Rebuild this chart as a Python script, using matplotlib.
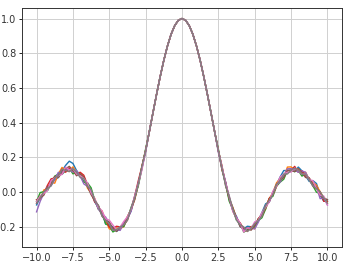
import numpy as np
import matplotlib
matplotlib.use('Agg')
import matplotlib.pyplot as plt

# x grid and the underlying curve
x = np.linspace(-10, 10, 81)
y_base = [-0.054, -0.033, -0.008, 0.019, 0.046, 0.071, 0.094, 0.112, 0.124, 0.128,
          0.125, 0.114, 0.094, 0.067, 0.033, -0.005, -0.047, -0.088, -0.128, -0.164,
          -0.192, -0.210, -0.217, -0.211, -0.189, -0.152, -0.100, -0.033, 0.047, 0.139,
          0.239, 0.346, 0.455, 0.562, 0.665, 0.759, 0.841, 0.909, 0.959, 0.990,
          1.000,
          0.990, 0.959, 0.909, 0.841, 0.759, 0.665, 0.562, 0.455, 0.346, 0.239,
          0.139, 0.047, -0.033, -0.100, -0.152, -0.189, -0.211, -0.217, -0.210, -0.192,
          -0.164, -0.128, -0.088, -0.047, -0.005, 0.033, 0.067, 0.094, 0.114, 0.125,
          0.128, 0.124, 0.112, 0.094, 0.071, 0.046, 0.019, -0.008, -0.033, -0.054]

# per-run wiggle around the curve, in hundredths (center is clean)
mid = [0] * 19
dev_c0 = [-2, 0, 1, -1, 2, 0, -1, 1, 3, 5, 4, 1, 0, -1, 2, 1, -1, 0, 1, -2, 0, 1, -1, 0, 1, 0, -1, 1, 0, 0, 0] + mid + \
         [0, 0, 1, -1, 0, 1, -1, 0, 2, 1, -1, 0, 1, 2, -1, 0, 1, 2, 3, 1, 0, -1, 2, 1, 0, -1, 2, 3, -1, -2, 1]
dev_c1 = [1, -1, 2, 0, 1, -2, 1, 3, 0, -1, 2, 0, 1, 2, -1, 0, 1, -1, 2, 0, -2, -1, 1, 0, -1, 1, 0, -1, 0, 1, 0] + mid + \
         [0, 1, 0, -1, 1, 0, 1, -1, 0, 1, -2, 1, 0, -1, 1, 0, 2, 1, -1, 3, 2, 0, 1, -1, 2, 0, 1, 2, 1, 0, -1]
dev_c2 = [0, 3, 1, -1, 0, 2, 1, -1, 0, 1, -2, 0, 1, -1, 2, 3, 0, -1, 1, -2, 0, -2, 0, 1, -1, 0, 1, 0, -1, 0, 1] + mid + \
         [1, -1, 0, -2, 0, -1, 1, -2, 0, 1, -1, 0, -2, -1, 1, -2, 0, -1, -2, 1, 0, -1, 0, -2, 1, 0, -1, -2, 0, -1, 0]
dev_c3 = [-1, 1, 0, 2, 3, 1, 0, 2, -1, 1, 0, -1, 2, 3, 1, 0, -1, 1, 0, 1, -1, 0, 2, 1, 0, -1, 0, 1, 2, 1, 0] + mid + \
         [0, -1, 1, 0, -1, 0, 1, 0, -1, 1, 0, 1, -1, 0, 1, -1, 0, 1, 0, 1, 0, 2, -1, 1, 0, 1, -1, 0, 1, -2, 0]
dev_c4 = [-6, -2, 0, 1, -1, 0, 2, -1, 1, 0, -1, 1, 0, -2, 0, 1, 0, -1, 0, 2, 1, -1, 0, -1, 1, 0, -1, 0, 1, 0, -1] + mid + \
         [-1, 0, 1, 0, -1, 1, 0, -1, 1, 0, -2, -1, 0, 1, -1, 0, 1, -1, 0, 2, 1, 0, -1, 1, 2, 0, -1, 1, -3, 0, -2]
dev_c5 = [1, 0, -1, 1, 0, 2, -1, 0, 1, 2, 0, -2, 1, 2, 0, -1, 0, 1, -1, 0, 2, 0, -1, 1, 0, 1, 0, -1, 0, 1, 0] + mid + \
         [0, 1, -1, 0, 1, 0, -1, 0, 1, -1, 0, 1, 0, 1, -1, 0, 1, 0, -1, 1, 0, -1, 1, 0, -1, 1, 0, 1, -1, 0, 1]
dev_c6 = [0, 1, 0, -1, 2, 1, 0, -1, 2, 0, 1, -1, 0, 1, 2, 0, 1, 0, 2, 1, 3, 2, 0, 1, 2, 1, 0, 1, 0, -1, 0] + mid + \
         [0, 1, 0, 1, -1, 0, 1, -2, 1, 0, 2, 0, 1, 0, -1, 1, 0, 2, 1, 0, -1, 1, 0, -1, 1, 0, 2, 0, -1, 1, -2]
dev_c7 = [-1, 0, 1, 0, -1, 1, 0, 2, 0, -1, 1, 0, -1, 1, 0, 2, 0, 1, -1, 0, 1, -1, 0, 1, 0, -1, 1, 0, 0, 1, 0] + mid + \
         [0, 0, -1, 1, 0, -1, 0, 1, -1, 0, 1, 0, -1, 1, 0, -1, 1, 0, 1, -1, 0, 1, 0, -1, 1, 0, -1, 0, 1, 0, -1]

runs = [dev_c0, dev_c1, dev_c2, dev_c3, dev_c4, dev_c5, dev_c6, dev_c7]

plt.rcParams['font.size'] = 7
fig = plt.figure(figsize=(3.44, 2.62), dpi=100)
ax = fig.add_axes([0.064, 0.057, 0.93, 0.912])

base = np.array(y_base)
for dev in runs:
    ax.plot(x, base + np.array(dev) / 100.0, lw=1.0)

ax.set_xlim(-11, 11)
ax.set_ylim(-0.317, 1.06)
ax.set_xticks([-10, -7.5, -5, -2.5, 0, 2.5, 5, 7.5, 10])
ax.set_yticks([-0.2, 0.0, 0.2, 0.4, 0.6, 0.8, 1.0])
ax.grid(color='#d0d0d0', lw=0.7)
ax.tick_params(length=2, width=0.6, pad=2, labelcolor='#333333')
for s in ax.spines.values():
    s.set_linewidth(0.7)
    s.set_color('#333333')

fig.savefig('out.png', dpi=100)
